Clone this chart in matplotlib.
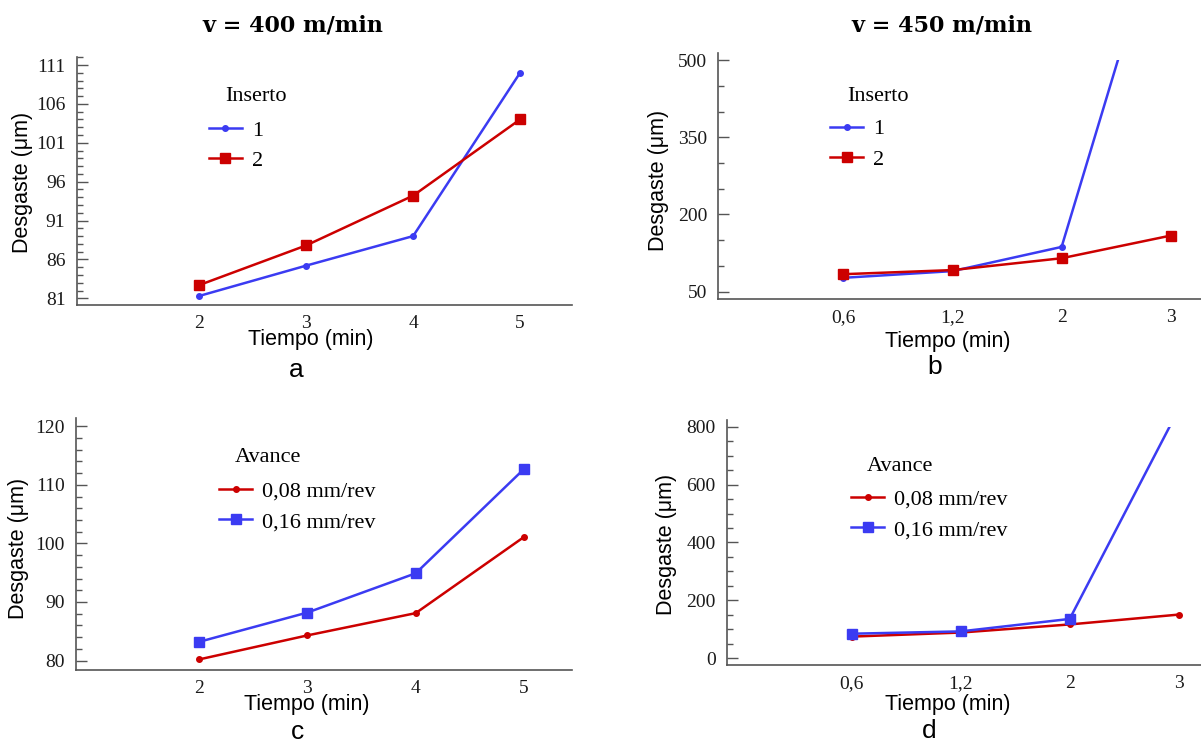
import matplotlib

matplotlib.use("Agg")
import matplotlib.pyplot as plt
from matplotlib.patches import Rectangle
from matplotlib.ticker import MultipleLocator

plt.rcParams["font.family"] = "serif"
plt.rcParams["font.serif"] = ["Liberation Serif"]

SANS = "Liberation Sans"
BLUE = "#3b3bf2"
RED = "#cc0000"
AXIS_GREY = "#555555"

# tiempo de mecanizado (min)
tiempo_400 = [2, 3, 4, 5]
tiempo_450 = ["0,6", "1,2", "2", "3"]

# desgaste (um) segun inserto
inserto1_400 = [81.3, 85.2, 89.0, 110.0]
inserto2_400 = [82.7, 87.8, 94.2, 104.0]
inserto1_450 = [77, 90, 137, 840]
inserto2_450 = [84, 92, 115, 159]

# desgaste (um) segun avance
avance008_400 = [80.2, 84.3, 88.1, 101.1]
avance016_400 = [83.2, 88.2, 94.9, 112.7]
avance008_450 = [75, 89, 117, 151]
avance016_450 = [85, 93, 136, 860]


def style_axes(ax, xlim, ylim, major, offset, minor):
    """
    Common look of the four wear panels: left/bottom spines only,
    inward y ticks, serif tick labels and no x tick marks
    """
    ax.set_xlim(xlim)
    ax.set_ylim(ylim)
    ax.yaxis.set_major_locator(MultipleLocator(major, offset=offset))
    ax.yaxis.set_minor_locator(MultipleLocator(minor))
    for side in ("top", "right"):
        ax.spines[side].set_visible(False)
    for side in ("left", "bottom"):
        ax.spines[side].set_color(AXIS_GREY)
        ax.spines[side].set_linewidth(1.2)
    ax.tick_params(axis="y", which="major", direction="in", length=8,
                   width=1, color=AXIS_GREY, pad=8, labelsize=14)
    ax.tick_params(axis="y", which="minor", direction="in", length=4,
                   width=1, color=AXIS_GREY)
    ax.tick_params(axis="x", length=0, pad=7, labelsize=14)
    ax.tick_params(labelcolor="#1a1a1a")


def clip_at(ax, line, top):
    # the wear scale stops at its last tick, cut the runaway curve there
    line.set_clip_path(Rectangle((-5, -100), 20, top + 100, transform=ax.transData))


def add_labels(ax, xlab, ylab, letter_xy):
    ax.set_xlabel("Tiempo (min)", fontfamily=SANS, fontsize=15.5)
    ax.xaxis.label.set_verticalalignment("center")
    ax.xaxis.set_label_coords(*xlab)
    ax.set_ylabel("Desgaste (\u03bcm)", fontfamily=SANS, fontsize=15.5)
    ax.yaxis.label.set_verticalalignment("center")
    ax.yaxis.set_label_coords(*ylab)
    fig.text(letter_xy[0] / 1201, 1 - letter_xy[1] / 744, letter_xy[2],
             fontfamily=SANS, fontsize=19, ha="center", va="center")


def add_legend(ax, title, legend_xy, title_xy):
    ax.legend(loc="upper left", bbox_to_anchor=legend_xy, frameon=False,
              fontsize=16, handlelength=1.5, handletextpad=0.45,
              borderpad=0, borderaxespad=0, labelspacing=0.45)
    ax.text(title_xy[0], title_xy[1], title, transform=ax.transAxes,
            fontsize=16, ha="left", va="center")


fig = plt.figure(figsize=(12.01, 7.44), dpi=100)
LW = 1.8

# a) v = 400 m/min, inserto
ax_a = fig.add_axes([0.0637, 0.5901, 0.4126, 0.3337])
ax_a.plot(tiempo_400, inserto1_400, color=BLUE, lw=LW, marker="o", ms=4, label="1")
ax_a.plot(tiempo_400, inserto2_400, color=RED, lw=LW, marker="s", ms=6.5, label="2")
style_axes(ax_a, (0.852, 5.486), (80.14, 112.07), 5, 1, 1)
ax_a.set_xticks(tiempo_400)
add_legend(ax_a, "Inserto", (0.267, 0.745), (0.2997, 0.8377))
add_labels(ax_a, (0.473, -0.141), (-0.108, 0.495), (296, 370, "a"))

# b) v = 450 m/min, inserto
ax_b = fig.add_axes([0.5981, 0.5981, 0.4021, 0.3302])
pos_450 = list(range(len(tiempo_450)))
line_b, = ax_b.plot(pos_450, inserto1_450, color=BLUE, lw=LW, marker="o", ms=4, label="1")
ax_b.plot(pos_450, inserto2_450, color=RED, lw=LW, marker="s", ms=6.5, label="2")
style_axes(ax_b, (-1.147, 3.28), (35.8, 513), 150, 50, 50)
clip_at(ax_b, line_b, 500)
ax_b.set_xticks(pos_450)
ax_b.set_xticklabels(tiempo_450)
add_legend(ax_b, "Inserto", (0.2314, 0.733), (0.2666, 0.8234))
add_labels(ax_b, (0.476, -0.171), (-0.123, 0.484), (935, 367, "b"))

# c) v = 400 m/min, avance
ax_c = fig.add_axes([0.0633, 0.0995, 0.4130, 0.3387])
ax_c.plot(tiempo_400, avance008_400, color=RED, lw=LW, marker="o", ms=4, label="0,08 mm/rev")
ax_c.plot(tiempo_400, avance016_400, color=BLUE, lw=LW, marker="s", ms=6.5, label="0,16 mm/rev")
style_axes(ax_c, (0.864, 5.443), (78.4, 121.4), 10, 0, 2)
ax_c.set_xticks(tiempo_400)
add_legend(ax_c, "Avance", (0.2883, 0.750), (0.3206, 0.8413))
add_labels(ax_c, (0.466, -0.139), (-0.115, 0.484), (297, 732, "c"))

# d) v = 450 m/min, avance
ax_d = fig.add_axes([0.6051, 0.1062, 0.3949, 0.3293])
ax_d.plot(pos_450, avance008_450, color=RED, lw=LW, marker="o", ms=4, label="0,08 mm/rev")
line_d, = ax_d.plot(pos_450, avance016_450, color=BLUE, lw=LW, marker="s", ms=6.5, label="0,16 mm/rev")
style_axes(ax_d, (-1.147, 3.205), (-23, 823), 200, 0, 50)
clip_at(ax_d, line_d, 800)
ax_d.set_xticks(pos_450)
ax_d.set_xticklabels(tiempo_450)
add_legend(ax_d, "Avance", (0.2621, 0.718), (0.2958, 0.8082))
add_labels(ax_d, (0.467, -0.163), (-0.126, 0.494), (929, 731, "d"))

fig.text(293 / 1201, 1 - 25 / 744, "v = 400 m/min", fontfamily="DejaVu Serif",
         fontweight="bold", fontsize=16, ha="center", va="center")
fig.text(942 / 1201, 1 - 25 / 744, "v = 450 m/min", fontfamily="DejaVu Serif",
         fontweight="bold", fontsize=16, ha="center", va="center")

fig.savefig("out.png", dpi=100)
